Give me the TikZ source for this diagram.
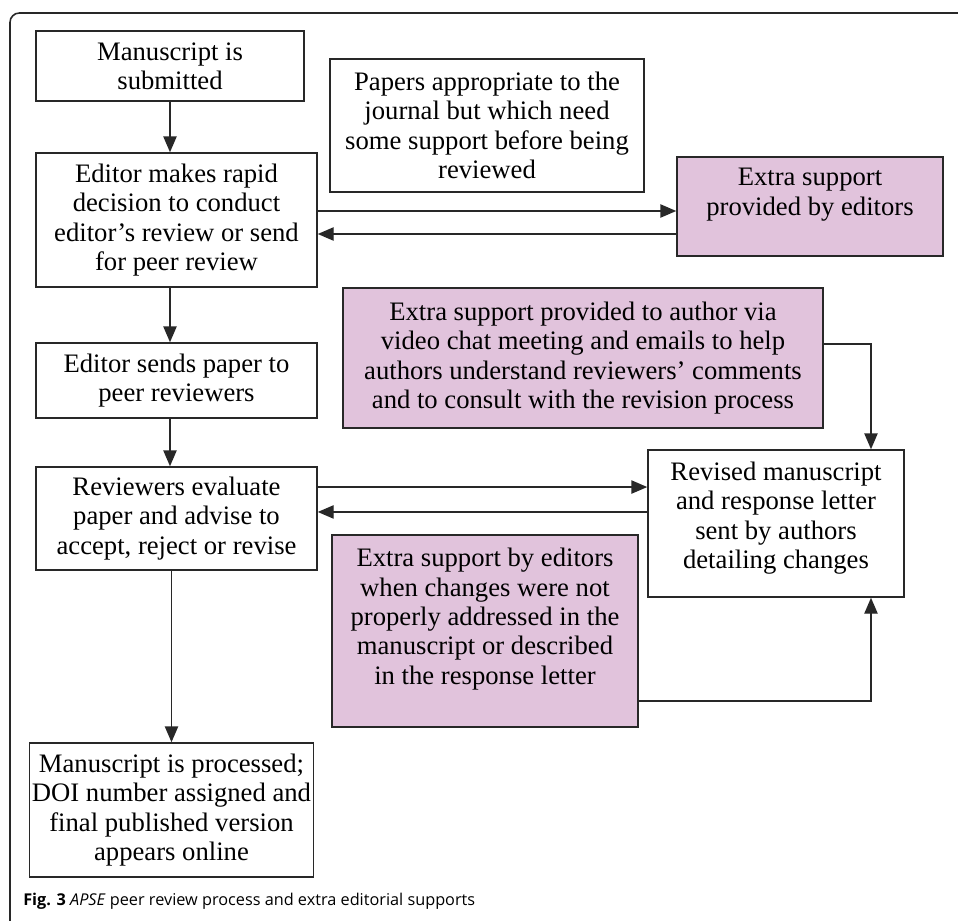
\documentclass[tikz,border=0pt]{standalone}
\usepackage{fontspec}
\setmainfont{Liberation Serif}
\newfontfamily\capfont{Open Sans}
\usetikzlibrary{arrows.meta}

\definecolor{boxpink}{RGB}{225,195,220}
\definecolor{linegray}{RGB}{40,40,40}

\tikzset{
  box/.style={draw=linegray,line width=1.1pt,align=center,inner sep=2pt,
    font=\fontsize{20}{22}\selectfont},
  pinkbox/.style={box,fill=boxpink},
  arr/.style={draw=linegray,line width=1.1pt,-{Triangle[length=12pt,width=10pt]}}
}

\begin{document}
\begin{tikzpicture}[x=0.75pt,y=-0.75pt]
  \useasboundingbox (0,0) rectangle (958,921);

  %frame
  \draw[linegray,line width=1.2pt,rounded corners=7pt] (10,930) -- (10,13) -- (965,13);

  %main column
  \node[box,minimum width=201pt,minimum height=52.5pt] (submit) at (170,66)
    {Manuscript is\\submitted};
  \node[box,minimum width=210.75pt,minimum height=100.5pt] (decide) at (176.5,220)
    {Editor makes rapid\\decision to conduct\\editor’s review or send\\for peer review};
  \node[box,minimum width=210.75pt,minimum height=56.25pt] (sends) at (176.5,380.5)
    {Editor sends paper to\\peer reviewers};
  \node[box,minimum width=210.75pt,minimum height=77.25pt] (reviewers) at (176.5,518.5)
    {Reviewers evaluate\\paper and advise to\\accept, reject or revise};
  \node[box,minimum width=203.25pt,minimum height=100.5pt] (final) at (171.5,810)
    {Manuscript is processed;\\DOI number assigned and\\final published version\\appears online};

  %side boxes
  \node[box,minimum width=235.5pt,minimum height=99.75pt] (papers) at (487,125.5)
    {Papers appropriate to the\\journal but which need\\some support before being\\reviewed};
  \node[pinkbox,minimum width=199.5pt,minimum height=74.25pt] (extra1) at (810,206.5)
    {Extra support\\provided by editors\\ \mbox{}};
  \node[pinkbox,minimum width=360pt,minimum height=105pt] (extra2) at (583,358)
    {Extra support provided to author via\\video chat meeting and emails to help\\authors understand reviewers’ comments\\and to consult with the revision process};
  \node[box,minimum width=192pt,minimum height=110.25pt] (revised) at (776,523.5)
    {Revised manuscript\\and response letter\\sent by authors\\detailing changes\\[-9.5pt]\mbox{}};
  \node[pinkbox,minimum width=229.5pt,minimum height=144pt] (extra3) at (485,631)
    {Extra support by editors\\when changes were not\\properly addressed in the\\manuscript or described\\in the response letter\\ \mbox{}};

  %arrows down
  \draw[arr] (submit.south) -- (submit.south |- decide.north);
  \draw[arr] (submit.south |- decide.south) -- (submit.south |- sends.north);
  \draw[arr] (submit.south |- sends.south) -- (submit.south |- reviewers.north);
  \draw[arr] (final.north |- reviewers.south) -- (final.north);

  %editor <-> extra support
  \draw[arr] ([yshift=6.75pt]decide.east) -- ([yshift=6.75pt]decide.east -| extra1.west);
  \draw[arr] ([yshift=-10.5pt]decide.east -| extra1.west) -- ([yshift=-10.5pt]decide.east);

  %reviewers <-> revised
  \draw[arr] ([yshift=23.6pt]reviewers.east) -- ([yshift=23.6pt]reviewers.east -| revised.west);
  \draw[arr] ([yshift=4.9pt]reviewers.east -| revised.west) -- ([yshift=4.9pt]reviewers.east);

  %support into revised
  \draw[arr] ([yshift=10.5pt]extra2.east) -| ([xshift=71.25pt]revised.north);
  \draw[arr] ([yshift=-52.5pt]extra3.east) -| ([xshift=71.25pt]revised.south);

  %caption
  \node[anchor=west,inner sep=0pt,font=\capfont\fontsize{12.2}{14}\selectfont] (caption) at (23,901)
    {\textbf{Fig. 3} \textit{APSE} peer review process and extra editorial supports};
\end{tikzpicture}
\end{document}
